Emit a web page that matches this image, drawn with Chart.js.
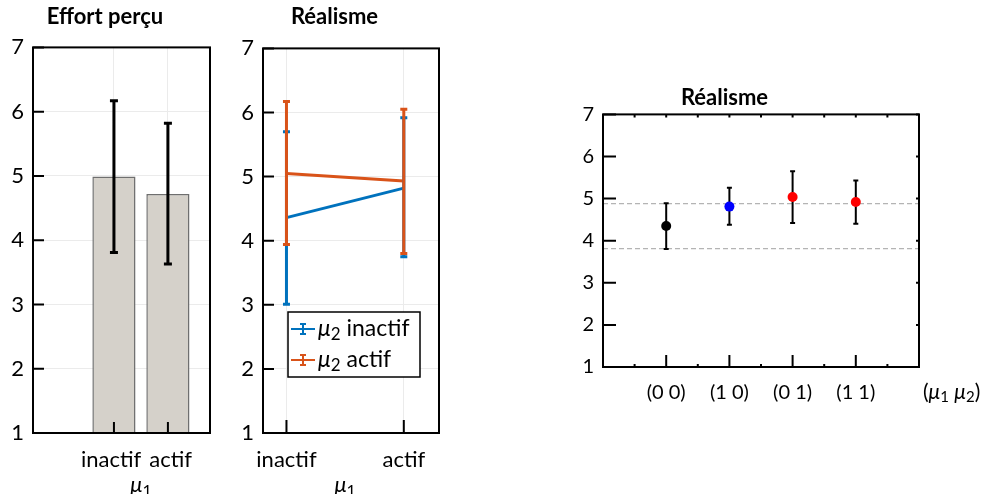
<!DOCTYPE html>
<html>
<head>
<meta charset="utf-8">
<script src="https://cdn.jsdelivr.net/npm/chart.js@4.4.0/dist/chart.umd.min.js"></script>
<style>
  html, body { margin: 0; padding: 0; background: #fff; overflow: hidden; }
  .box { position: absolute; top: 0; height: 494px; }
</style>
</head>
<body>
<div class="box" style="left:0;width:243px"><canvas id="effort"></canvas></div>
<div class="box" style="left:230px;width:242px"><canvas id="realism"></canvas></div>
<div class="box" style="left:530px;width:462px"><canvas id="combo"></canvas></div>
<script>
// ---- data ----
const yTicks = [1, 2, 3, 4, 5, 6, 7];

// Effort perçu, by mu1
const effortLabels = ["inactif", "actif"];
const effortMean = [4.99, 4.72];
const effortLow = [3.81, 3.63];
const effortHigh = [6.17, 5.82];

// Réalisme, by mu1, one line per mu2
const realismLabels = ["inactif", "actif"];
const mu2InactifMean = [4.36, 4.82];
const mu2InactifLow = [3.01, 3.75];
const mu2InactifHigh = [5.70, 5.92];
const mu2ActifMean = [5.05, 4.93];
const mu2ActifLow = [3.94, 3.80];
const mu2ActifHigh = [6.17, 6.05];

// Réalisme, per (mu1 mu2) combination
const comboLabels = ["(0 0)", "(1 0)", "(0 1)", "(1 1)"];
const comboMean = [4.35, 4.81, 5.04, 4.92];
const comboLow = [3.80, 4.38, 4.42, 4.40];
const comboHigh = [4.89, 5.26, 5.65, 5.43];
const comboRefLines = [4.88, 3.81];

// ---- helpers ----
const FONT = 'Lato, "Open Sans", sans-serif';
const pts = (vals) => vals.map((v, i) => ({ x: i + 1, y: v }));

// text with "μN" drawn as italic mu + subscript digit
function mathParts(text) {
  const parts = [];
  const re = /μ(\d)/g;
  let last = 0, m;
  while ((m = re.exec(text))) {
    if (m.index > last) parts.push({ t: text.slice(last, m.index) });
    parts.push({ t: "μ", it: true });
    parts.push({ t: m[1], sub: true });
    last = re.lastIndex;
  }
  if (last < text.length) parts.push({ t: text.slice(last) });
  return parts;
}
function drawMath(ctx, text, x, y, size, align) {
  const parts = mathParts(text);
  const fontOf = (p) => (p.it ? "italic " : "") + (p.sub ? Math.round(size * 0.72) : size) + "px " + FONT;
  let w = 0;
  parts.forEach((p) => { ctx.font = fontOf(p); p.w = ctx.measureText(p.t).width; w += p.w; });
  let cx = align === "center" ? x - w / 2 : align === "right" ? x - w : x;
  ctx.textAlign = "left";
  ctx.textBaseline = "middle";
  ctx.fillStyle = "#000";
  parts.forEach((p) => {
    ctx.font = fontOf(p);
    ctx.fillText(p.t, cx, p.sub ? y + size * 0.25 : y);
    cx += p.w;
  });
}

function drawErrorBars(chart, o) {
  const { ctx, scales: { y } } = chart;
  chart.data.datasets.forEach((ds, i) => {
    if (!ds.errLow) return;
    const meta = chart.getDatasetMeta(i);
    ctx.save();
    ctx.strokeStyle = ds.errColor || ds.borderColor;
    ctx.lineWidth = o.width;
    ctx.beginPath();
    meta.data.forEach((el, j) => {
      const x = el.x;
      const y0 = y.getPixelForValue(ds.errLow[j]);
      const y1 = y.getPixelForValue(ds.errHigh[j]);
      ctx.moveTo(x, y0); ctx.lineTo(x, y1);
      ctx.moveTo(x - o.cap, y0); ctx.lineTo(x + o.cap, y0);
      ctx.moveTo(x - o.cap, y1); ctx.lineTo(x + o.cap, y1);
    });
    ctx.stroke();
    ctx.restore();
  });
}

const errorBars = {
  id: "errorBars",
  beforeDatasetsDraw(chart, args, o) { if (o.under) drawErrorBars(chart, o); },
  afterDatasetsDraw(chart, args, o) { if (!o.under) drawErrorBars(chart, o); },
};

// box around plot + inward tick marks + axis note
const frame = {
  id: "frame",
  afterDraw(chart, args, o) {
    const { ctx, chartArea: a, scales: { x, y } } = chart;
    ctx.save();
    ctx.strokeStyle = "#000";
    ctx.lineWidth = 2;
    ctx.beginPath();
    y.ticks.forEach((t) => {
      const p = y.getPixelForValue(t.value);
      ctx.moveTo(a.left, p); ctx.lineTo(a.left + o.yLen, p);
      if (o.yRight) { ctx.moveTo(a.right, p); ctx.lineTo(a.right - o.yRight, p); }
    });
    x.ticks.forEach((t) => {
      const p = x.getPixelForValue(t.value);
      ctx.moveTo(p, a.bottom); ctx.lineTo(p, a.bottom - o.xLen);
    });
    (o.minor || []).forEach((v) => {
      const p = x.getPixelForValue(v);
      ctx.moveTo(p, a.bottom); ctx.lineTo(p, a.bottom - o.minorLen);
      ctx.moveTo(p, a.top); ctx.lineTo(p, a.top + o.minorLen);
    });
    ctx.stroke();
    ctx.strokeRect(a.left, a.top, a.right - a.left, a.bottom - a.top);
    if (o.note) {
      let nx;
      if (o.note.at === "right") nx = a.right + o.note.dx;
      else nx = (x.getPixelForValue(x.ticks[0].value) + x.getPixelForValue(x.ticks[x.ticks.length - 1].value)) / 2;
      drawMath(ctx, o.note.text, nx, a.bottom + o.note.dy, o.note.size, o.note.at === "right" ? "left" : "center");
    }
    ctx.restore();
  },
};

const refLines = {
  id: "refLines",
  beforeDatasetsDraw(chart, args, o) {
    if (!o.values) return;
    const { ctx, chartArea: a, scales: { y } } = chart;
    ctx.save();
    ctx.strokeStyle = "#b4b4b4";
    ctx.lineWidth = 1.3;
    ctx.setLineDash([5, 3]);
    o.values.forEach((v) => {
      const p = y.getPixelForValue(v);
      ctx.beginPath(); ctx.moveTo(a.left, p); ctx.lineTo(a.right, p); ctx.stroke();
    });
    ctx.restore();
  },
};

const inLegend = {
  id: "inLegend",
  afterDraw(chart, args, o) {
    if (!o.show) return;
    const { ctx, chartArea: a } = chart;
    const left = a.left + o.dx, top = a.bottom - o.dy;
    ctx.save();
    ctx.fillStyle = "#fff";
    ctx.fillRect(left, top, o.w, o.h);
    ctx.strokeStyle = "#000";
    ctx.lineWidth = 1.5;
    ctx.strokeRect(left, top, o.w, o.h);
    chart.data.datasets.forEach((ds, i) => {
      const cy = top + 17 + i * 31;
      ctx.strokeStyle = ds.borderColor;
      ctx.lineWidth = 2;
      ctx.beginPath();
      ctx.moveTo(left + 3, cy); ctx.lineTo(left + 27, cy);
      ctx.moveTo(left + 15, cy - 5); ctx.lineTo(left + 15, cy + 5);
      ctx.moveTo(left + 12, cy - 5); ctx.lineTo(left + 18, cy - 5);
      ctx.moveTo(left + 12, cy + 5); ctx.lineTo(left + 18, cy + 5);
      ctx.stroke();
      drawMath(ctx, ds.label, left + 30, cy, 23, "left");
    });
    ctx.restore();
  },
};

function axisX(min, max, labels, size, pad, height, grid, spread) {
  return {
    type: "linear", min: min, max: max, offset: false,
    afterBuildTicks: (s) => { s.ticks = labels.map((_, i) => ({ value: i + 1 })); },
    ticks: {
      // spread: pull the first/last label apart a little when they are crowded
      callback: (v) => {
        const t = labels[v - 1];
        if (!spread) return t;
        return v === 1 ? t + " " : v === labels.length ? " " + t : t;
      },
      font: { family: FONT, size: size }, color: "#000", padding: pad, maxRotation: 0, autoSkip: false,
    },
    grid: { display: grid, offset: false, color: "#ebebeb", lineWidth: 1, drawTicks: false },
    border: { display: false },
    afterFit: (s) => { s.height = height; },
  };
}
function axisY(size, pad, width, grid) {
  return {
    min: 1, max: 7,
    afterBuildTicks: (s) => { s.ticks = yTicks.map((v) => ({ value: v })); },
    ticks: { font: { family: FONT, size: size }, color: "#000", padding: pad },
    grid: { display: grid, color: "#ebebeb", lineWidth: 1, drawTicks: false },
    border: { display: false },
    afterFit: (s) => { s.width = width; },
  };
}
function titleOpts(text, top, bottom) {
  return { display: true, text: text, color: "#000", font: { family: FONT, size: 22, weight: "bold" }, padding: { top: top, bottom: bottom } };
}

// ---- Effort perçu ----
new Chart(document.getElementById("effort"), {
  type: "bar",
  data: {
    datasets: [{
      data: pts(effortMean),
      errLow: effortLow, errHigh: effortHigh, errColor: "#000",
      backgroundColor: "#d5d1ca", borderColor: "#6f6f6f", borderWidth: 1.5,
      barPercentage: 0.8, categoryPercentage: 1,
    }],
  },
  options: {
    responsive: true, maintainAspectRatio: false, animation: false,
    layout: { padding: { right: 33 } },
    scales: {
      x: axisX(-0.5, 2.78, effortLabels, 22, 14, 61, true, true),
      y: axisY(22, 9, 33, true),
    },
    plugins: {
      legend: { display: false }, tooltip: { enabled: false },
      title: titleOpts("Effort perçu", 4, 17),
      errorBars: { width: 3, cap: 4 },
      frame: { yLen: 11, xLen: 11, note: { text: "μ1", at: "mid", dy: 52, size: 22 } },
    },
  },
  plugins: [errorBars, frame],
});

// ---- Réalisme (lines) ----
new Chart(document.getElementById("realism"), {
  type: "line",
  data: {
    datasets: [
      { label: "μ2 inactif", data: pts(mu2InactifMean), errLow: mu2InactifLow, errHigh: mu2InactifHigh,
        borderColor: "#0072bd", borderWidth: 3, pointRadius: 0, tension: 0 },
      { label: "μ2 actif", data: pts(mu2ActifMean), errLow: mu2ActifLow, errHigh: mu2ActifHigh,
        borderColor: "#d95319", borderWidth: 3, pointRadius: 0, tension: 0 },
    ],
  },
  options: {
    responsive: true, maintainAspectRatio: false, animation: false,
    layout: { padding: { right: 33 } },
    scales: {
      x: axisX(0.8, 2.3, realismLabels, 22, 14, 61, true, false),
      y: axisY(22, 9, 33, true),
    },
    plugins: {
      legend: { display: false }, tooltip: { enabled: false },
      title: titleOpts("Réalisme", 4, 18),
      errorBars: { width: 3, cap: 3.5 },
      frame: { yLen: 11, xLen: 13, note: { text: "μ1", at: "mid", dy: 52, size: 22 } },
      inLegend: { show: true, dx: 25, dy: 121, w: 132, h: 65 },
    },
  },
  plugins: [errorBars, frame, inLegend],
});

// ---- Réalisme (combinations) ----
const halfSteps = [];
for (let v = 0.5; v < 5; v += 0.5) halfSteps.push(v);

new Chart(document.getElementById("combo"), {
  type: "scatter",
  data: {
    datasets: [{
      data: pts(comboMean),
      errLow: comboLow, errHigh: comboHigh, errColor: "#000",
      pointBackgroundColor: ["#000000", "#0000ff", "#ff0000", "#ff0000"],
      pointBorderWidth: 0, pointRadius: 5,
    }],
  },
  options: {
    responsive: true, maintainAspectRatio: false, animation: false,
    layout: { padding: { right: 73 } },
    scales: {
      x: axisX(0, 5, comboLabels, 20, 14, 127, false, false),
      y: axisY(20, 9, 73, false),
    },
    plugins: {
      legend: { display: false }, tooltip: { enabled: false },
      title: titleOpts("Réalisme", 85, 3),
      errorBars: { width: 2, cap: 2.5, under: true },
      refLines: { values: comboRefLines },
      frame: { yLen: 13, yRight: 3, xLen: 12, minor: halfSteps, minorLen: 3,
               note: { text: "(μ1 μ2)", at: "right", dx: 4, dy: 25, size: 21 } },
    },
  },
  plugins: [refLines, errorBars, frame],
});
</script>
</body>
</html>
